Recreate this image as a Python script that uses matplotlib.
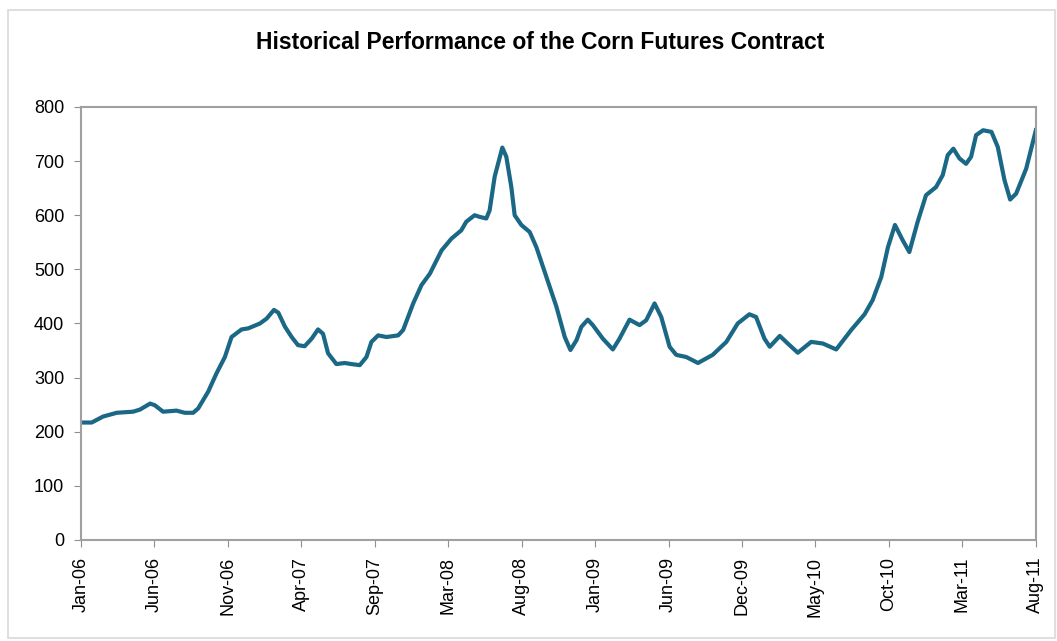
import matplotlib
matplotlib.use("Agg")
import matplotlib.pyplot as plt
from matplotlib.patches import Rectangle

plt.rcParams['font.family'] = ['Liberation Sans', 'DejaVu Sans']

# weeks since Jan-06 and corn futures price (cents/bu)
weeks = [0.2, 3.2, 6.6, 10.7, 15.6, 17.7, 20.7, 22.1, 24.6, 28.6, 31.1, 33.6, 35.1,
         38.1, 40.6, 43.1, 45.1, 48.1, 50.1, 53.6, 55.6, 57.8, 59.1, 61.1, 63.1,
         65.0, 67.0, 69.1, 71.0, 72.5, 74.0, 76.5, 79.0, 81.0, 83.5, 85.5, 87.0,
         89.0, 91.5, 95.0, 96.5, 99.5, 102.0, 104.5, 108.0, 111.0, 113.9, 115.4,
         117.9, 119.4, 121.4, 122.4, 123.9, 126.2, 127.4, 128.9, 129.9, 131.9,
         134.4, 136.4, 139.4, 142.4, 144.9, 146.6, 148.4, 149.9, 151.8, 153.3,
         156.3, 159.3, 161.3, 164.3, 167.3, 169.3, 171.8, 173.8, 176.3, 178.3,
         181.3, 184.8, 189.2, 193.3, 196.7, 200.2, 202.2, 204.7, 206.3, 209.3,
         211.7, 214.7, 218.7, 222.2, 226.2, 230.7, 234.7, 237.1, 239.7, 241.7,
         243.8, 246.1, 248.1, 250.6, 253.1, 256.1, 258.1, 259.6, 261.3, 263.1,
         265.1, 266.6, 268.1, 270.2, 272.7, 274.6, 276.6, 278.3, 280.1, 283.1, 286.0]
price = [217, 217, 228, 235, 237, 241, 252, 249, 237, 239, 235, 235, 243,
         274, 308, 338, 375, 389, 391, 400, 409, 425, 420, 394, 375,
         360, 358, 372, 389, 381, 345, 325, 327, 325, 323, 338, 366,
         378, 375, 378, 388, 437, 471, 492, 535, 557, 572, 588,
         600, 597, 594, 609, 671, 725, 708, 652, 600, 582,
         569, 541, 486, 431, 375, 351, 369, 394, 407, 397,
         372, 352, 372, 407, 397, 406, 437, 412, 357, 342,
         338, 327, 342, 366, 400, 417, 412, 372, 357, 377,
         363, 346, 366, 363, 352, 388, 417, 443, 486, 541,
         582, 554, 532, 588, 637, 652, 674, 711, 723, 705,
         695, 708, 748, 757, 754, 726, 665, 629, 640, 686, 757]

tick_labels = ['Jan-06', 'Jun-06', 'Nov-06', 'Apr-07', 'Sep-07', 'Mar-08', 'Aug-08',
               'Jan-09', 'Jun-09', 'Dec-09', 'May-10', 'Oct-10', 'Mar-11', 'Aug-11']
tick_step = 22

fig = plt.figure(figsize=(10.57, 6.41), dpi=100)
fig.patches.append(Rectangle((0.008, 0.005), 0.99, 0.98, transform=fig.transFigure,
                             fill=False, edgecolor='#d9d9d9', linewidth=1.2))
ax = fig.add_axes([0.0766, 0.1576, 0.9034, 0.6755])

ax.plot(weeks, price, color='#1b6886', linewidth=3, solid_joinstyle='round')

ax.set_xlim(0, tick_step * (len(tick_labels) - 1))
ax.set_ylim(0, 800)
ax.set_yticks(range(0, 801, 100))
ax.set_xticks([i * tick_step for i in range(len(tick_labels))])
ax.set_xticklabels(tick_labels, rotation=90)
ax.tick_params(axis='both', labelsize=13, color='#909090', length=5,
               direction='out', pad=7)
for s in ax.spines.values():
    s.set_color('#a0a0a0')
    s.set_linewidth(1.5)

fig.text(0.511, 0.933, 'Historical Performance of the Corn Futures Contract',
         ha='center', va='center', fontsize=16.5, fontweight='bold')

fig.savefig('out.png', dpi=100)
